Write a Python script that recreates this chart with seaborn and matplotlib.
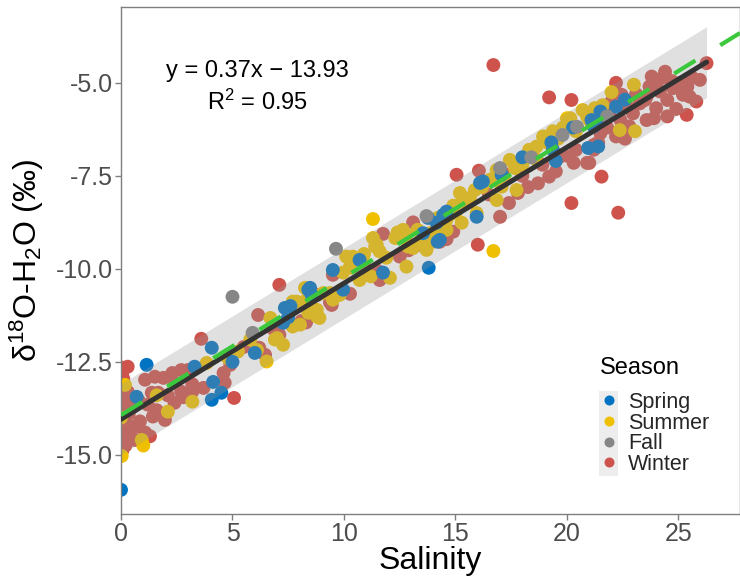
import numpy as np
import pandas as pd
import matplotlib
matplotlib.use("Agg")
import matplotlib.pyplot as plt
import seaborn as sns
from matplotlib.patches import Rectangle

sns.set_theme(style="white")
plt.rcParams["font.family"] = ["Liberation Sans", "DejaVu Sans"]
plt.rcParams["mathtext.fontset"] = "custom"
plt.rcParams["mathtext.rm"] = "Liberation Sans"
plt.rcParams["mathtext.it"] = "Liberation Sans:italic"

seasons = ["Spring", "Summer", "Fall", "Winter"]
palette = {"Spring": "#0073C2", "Summer": "#EFC000", "Fall": "#868686", "Winter": "#CD534C"}

# Reference mixing line reported on the chart
eq_slope = 0.37
eq_intercept = -13.93
eq_r2 = 0.95

# Half-width of the shaded prediction band around the fitted line (permil)
band_halfwidth = 0.95

# Salinity and d18O observations by season
winter_sal = [
    0.00, 0.05, 0.10, 0.00, 0.15, 0.05, 0.20, 0.10, 0.00, 0.15, 0.05, 0.25, 0.10, 0.00, 0.20, 0.05,
    0.30, 0.35, 0.30, 0.40, 0.30, 0.00, 0.10, 0.20,
    1.08, 1.52, 1.90, 2.40, 2.70, 3.00, 1.38, 1.67, 1.20, 1.60, 1.43, 1.97, 0.63, 0.85, 1.08, 0.40,
    0.55, 2.40, 2.80, 3.20, 3.20, 2.70, 3.70, 4.60, 4.65, 4.90, 0.63, 1.30, 2.10, 0.80, 2.30, 3.60, 5.07,
    5.50, 6.15, 6.20, 6.46, 6.80, 7.10, 7.10, 7.50, 8.10, 8.30, 8.80, 9.37, 9.45, 9.50, 10.27, 10.80,
    11.00, 11.60, 11.75, 12.50, 13.10, 14.30, 14.60, 14.90, 15.05, 16.00, 16.05, 15.60, 16.50, 17.00,
    17.40, 17.80, 18.25, 18.70, 19.20, 19.50, 20.30, 20.90, 21.40, 21.20, 20.10, 20.40, 19.70, 16.70,
    19.20, 20.20, 21.55, 20.20, 22.30, 25.37, 12.90, 13.60, 10.00, 8.50, 17.10, 18.00, 18.90, 11.50,
    22.20, 22.45, 22.70, 22.96, 23.27, 23.57, 23.70, 24.00, 24.30, 24.17, 24.50, 24.76, 25.07, 25.20,
    25.50, 25.96, 24.50, 24.00, 23.57, 22.80, 22.20, 22.40, 21.90, 21.50, 21.20, 21.00, 23.50, 26.26,
    24.40, 23.80, 25.40, 25.80, 24.90, 23.10, 22.60, 24.70, 25.60, 23.90, 21.80, 22.00,
]
winter_d18o = [
    -12.65, -12.80, -12.95, -13.10, -13.25, -13.40, -13.55, -13.70, -13.85, -14.00, -14.15, -14.30,
    -14.45, -14.60, -14.75, -14.90, -13.30, -13.90, -14.20, -14.50, -12.63, -12.90, -13.50, -14.60,
    -12.98, -12.90, -12.93, -13.06, -12.72, -12.72, -13.33, -13.33, -13.65, -13.80, -13.97, -14.06,
    -14.25, -14.10, -14.40, -14.33, -13.70, -13.60, -13.45, -13.30, -13.10, -13.30, -13.20, -12.80,
    -13.06, -12.58, -14.60, -14.50, -13.40, -13.55, -12.80, -11.88, -13.47,
    -12.10, -11.24, -12.12, -12.31, -11.60, -11.77, -10.43, -11.45, -11.40, -11.44, -10.70, -10.90,
    -10.97, -10.16, -10.67, -10.20, -10.00, -10.30, -9.06, -9.67, -8.75, -9.27, -9.20, -9.00, -7.47,
    -9.35, -7.36, -8.20, -8.00, -8.60, -8.23, -7.96, -7.80, -7.70, -7.52, -7.38, -7.15, -7.15, -6.60,
    -6.80, -6.98, -6.80, -6.98, -4.52, -5.39, -5.46, -7.52, -8.23, -8.49, -5.86, -9.50, -9.40, -10.60,
    -11.00, -7.40, -7.50, -7.20, -10.05,
    -5.00, -5.32, -5.64, -5.82, -5.55, -5.37, -5.10, -5.00, -4.86, -5.23, -5.46, -5.14, -5.00, -5.32,
    -5.37, -4.92, -5.90, -5.68, -6.00, -6.17, -6.44, -6.00, -5.86, -6.35, -6.67, -7.15, -5.46, -4.47,
    -4.70, -4.83, -5.10, -5.50, -5.70, -5.30, -6.50, -4.95, -4.85, -5.95, -6.20, -5.50,
]

summer_sal = [
    0.18, 0.93, 1.00, 0.03, 2.10, 3.20, 3.84, 6.53, 6.90, 6.10, 5.25, 6.70, 7.00, 7.27, 7.70, 7.88,
    8.25, 8.40, 8.78, 8.90, 9.37, 9.80, 9.96, 10.27, 10.40, 10.10, 10.30, 10.86, 11.40, 11.60, 11.30,
    12.30, 12.40, 12.80, 13.10, 12.80, 11.20, 10.70, 12.06, 9.07, 8.50, 8.33, 7.70, 9.50, 9.90, 8.78,
    8.03, 13.70, 13.40, 14.00, 14.30, 14.60, 15.00, 12.65, 11.47, 12.50, 12.87, 13.86, 14.20, 14.60,
    15.28, 15.20, 15.65, 15.87, 15.30, 16.55, 16.85, 17.44, 17.67, 18.30, 18.64, 18.93, 19.37, 19.82,
    20.00, 20.15, 20.70, 21.25, 21.60, 17.74, 16.85, 14.45, 15.95, 17.07, 21.50, 21.00, 23.05, 22.37,
    11.30, 16.70, 0.00, 1.60, 4.80, 5.80, 10.90, 11.90, 13.30, 14.90, 16.20, 17.20, 18.00, 18.60,
    19.10, 19.60, 20.40, 20.90, 22.00, 23.00,
]
summer_d18o = [
    -13.12, -14.60, -14.75, -15.03, -13.84, -13.57, -12.53, -12.49, -11.90, -12.18, -12.22, -11.32,
    -11.86, -12.04, -11.55, -10.88, -10.51, -11.18, -11.10, -11.32, -10.65, -10.70, -10.10, -9.94,
    -9.67, -9.67, -9.97, -9.76, -9.40, -9.53, -9.17, -9.17, -9.02, -9.09, -9.44, -9.94, -10.20,
    -10.30, -10.24, -10.65, -10.56, -10.83, -10.88, -10.83, -10.56, -11.28, -11.50, -9.49, -9.27,
    -9.27, -9.04, -8.68, -8.50, -8.95, -9.35, -9.13, -9.40, -9.04, -8.63, -8.95, -8.76, -7.96, -8.09,
    -7.88, -8.19, -7.60, -7.34, -7.07, -7.29, -6.80, -6.71, -6.44, -6.30, -6.20, -5.95, -5.95, -5.73,
    -5.68, -5.60, -7.88, -8.15, -8.95, -8.50, -7.79, -5.73, -6.00, -6.30, -6.27, -8.66, -9.52, -14.00,
    -13.40, -12.40, -11.90, -9.60, -9.70, -8.95, -8.30, -7.80, -7.60, -7.20, -7.05, -6.60, -6.50,
    -6.30, -5.90, -5.25, -5.05,
]

spring_sal = [
    0.00, 0.70, 1.15, 3.30, 4.07, 4.13, 4.07, 4.50, 5.00, 6.00, 8.40, 8.55, 7.35, 9.50, 9.96, 7.27,
    8.48, 11.75, 10.70, 13.77, 14.15, 14.30, 14.60, 13.80, 7.50, 7.60, 15.95, 13.55, 14.20, 16.10,
    16.23, 17.07, 19.30, 19.37, 19.50, 20.27, 21.10, 21.50, 14.45, 21.55, 21.20, 22.20, 21.40, 20.95,
    22.60, 18.00,
]
spring_d18o = [
    -15.94, -13.44, -12.58, -12.63, -12.12, -13.04, -13.52, -13.33, -12.50, -12.26, -10.56, -10.70,
    -11.05, -10.03, -10.56, -11.45, -10.51, -10.10, -9.76, -8.63, -8.76, -9.22, -8.46, -9.97, -11.30,
    -11.00, -8.60, -9.04, -9.27, -7.69, -7.65, -7.47, -6.60, -6.80, -7.10, -6.20, -6.00, -5.77, -8.55,
    -6.00, -6.17, -5.64, -6.71, -6.75, -5.45, -7.00,
]

fall_sal = [5.00, 9.64, 17.00, 18.40, 20.45, 21.80, 13.70, 19.80, 5.90]
fall_d18o = [-10.75, -9.46, -7.29, -7.00, -6.18, -5.90, -8.58, -6.40, -11.72]

x_ticks = [0, 5, 10, 15, 20, 25]
y_ticks = [-15.0, -12.5, -10.0, -7.5, -5.0]

frames = []
for name, sal, d18o in [("Winter", winter_sal, winter_d18o),
                        ("Summer", summer_sal, summer_d18o),
                        ("Spring", spring_sal, spring_d18o),
                        ("Fall", fall_sal, fall_d18o)]:
    frames.append(pd.DataFrame({"Salinity": sal, "d18O": d18o, "Season": name}))
df = pd.concat(frames, ignore_index=True)

fig = plt.figure(figsize=(7.4, 5.77), dpi=100)
ax = fig.add_axes([121 / 740, (577 - 514) / 577, 619 / 740, (514 - 7) / 577])

sns.scatterplot(data=df, x="Salinity", y="d18O", hue="Season", hue_order=seasons,
                palette=palette, s=100, edgecolor="none", linewidth=0, alpha=1,
                ax=ax, zorder=2, legend=True)

# Least-squares fit with shaded band
coef = np.polyfit(df["Salinity"], df["d18O"], 1)
xs = np.linspace(df["Salinity"].min(), df["Salinity"].max(), 200)
ys = np.polyval(coef, xs)
ax.fill_between(xs, ys - band_halfwidth, ys + band_halfwidth, color="#999999", alpha=0.3,
                linewidth=0, zorder=3)
ax.plot(xs, ys, color="#333333", linewidth=3.6, solid_capstyle="round", zorder=4)

# Reported regression equation drawn as a dashed line
xl = np.array([0.0, 27.76])
ax.plot(xl, eq_slope * xl + eq_intercept, color="#3CC83C", linewidth=3.0,
        dashes=(6, 7), dash_capstyle="butt", zorder=5)

sign = "\u2212" if eq_intercept < 0 else "+"
ax.text(6.1, -4.68, f"y = {eq_slope:.2f}x {sign} {abs(eq_intercept):.2f}",
        ha="center", va="center", fontsize=17, color="black")
ax.text(6.1, -5.52, f"R$^{{2}}$ = {eq_r2:.2f}", ha="center", va="center",
        fontsize=17, color="black")

ax.set_xlim(0, 27.76)
ax.set_ylim(-16.59, -2.96)
ax.set_xticks(x_ticks)
ax.set_xticklabels([str(v) for v in x_ticks])
ax.set_yticks(y_ticks)
ax.set_yticklabels([f"{v:.1f}" for v in y_ticks])
ax.tick_params(axis="both", bottom=True, left=True, direction="out", length=4, width=1,
               color="#7F7F7F", labelsize=18, labelcolor="#4D4D4D", pad=2)
for sp in ax.spines.values():
    sp.set_color("#7F7F7F")
    sp.set_linewidth(1.0)

ax.set_xlabel("Salinity", fontsize=23, color="black", labelpad=0)
ax.set_ylabel("\u03b4$^{18}$O-H$_{2}$O (\u2030)", fontsize=23, color="black", labelpad=7)

# Legend: title as its own text, entries below with a light key strip
handles, labels = ax.get_legend_handles_labels()
ax.get_legend().remove()
fig.text(600 / 740, 1 - 368 / 577, "Season", fontsize=17, color="black",
         ha="left", va="center")
leg = fig.legend(handles, labels, loc="upper left",
                 bbox_to_anchor=(598 / 740, 1 - 392 / 577), bbox_transform=fig.transFigure,
                 frameon=False, fontsize=15.5, markerscale=0.72,
                 handletextpad=0.4, labelspacing=-0.02, borderaxespad=0, borderpad=0,
                 handlelength=1.0)
fig.canvas.draw()
rend = fig.canvas.get_renderer()
boxes = [t.get_window_extent(rend) for t in leg.get_texts()]
hb = [h.get_window_extent(rend) for h in leg.legend_handles]
cx = np.mean([(b.x0 + b.x1) / 2 for b in hb])
y_top = boxes[0].y1 + 1
y_bot = boxes[-1].y0 - 1
inv = fig.transFigure.inverted()
(fx0, fy0), (fx1, fy1) = inv.transform([(cx - 9.5, y_bot), (cx + 9.5, y_top)])
fig.patches.append(Rectangle((fx0, fy0), fx1 - fx0, fy1 - fy0, transform=fig.transFigure,
                             facecolor="#EDEDED", edgecolor="none", zorder=1))
leg.set_zorder(10)

fig.savefig("out.png", dpi=100)
